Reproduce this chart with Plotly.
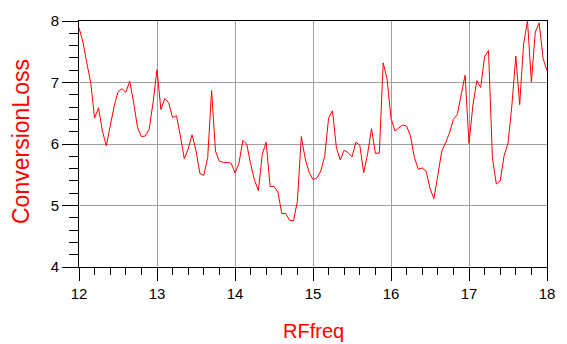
import plotly.graph_objects as go

rf_freq = [
    12.00, 12.05, 12.10, 12.15, 12.20, 12.25, 12.30, 12.35, 12.40, 12.45,
    12.50, 12.55, 12.60, 12.65, 12.70, 12.75, 12.80, 12.85, 12.90, 12.95,
    13.00, 13.05, 13.10, 13.15, 13.20, 13.25, 13.30, 13.35, 13.40, 13.45,
    13.50, 13.55, 13.60, 13.65, 13.70, 13.75, 13.80, 13.85, 13.90, 13.95,
    14.00, 14.05, 14.10, 14.15, 14.20, 14.25, 14.30, 14.35, 14.40, 14.45,
    14.50, 14.55, 14.60, 14.65, 14.70, 14.75, 14.80, 14.85, 14.90, 14.95,
    15.00, 15.05, 15.10, 15.15, 15.20, 15.25, 15.30, 15.35, 15.40, 15.45,
    15.50, 15.55, 15.60, 15.65, 15.70, 15.75, 15.80, 15.85, 15.90, 15.95,
    16.00, 16.05, 16.10, 16.15, 16.20, 16.25, 16.30, 16.35, 16.40, 16.45,
    16.50, 16.55, 16.60, 16.65, 16.70, 16.75, 16.80, 16.85, 16.90, 16.95,
    17.00, 17.05, 17.10, 17.15, 17.20, 17.25, 17.30, 17.35, 17.40, 17.45,
    17.50, 17.55, 17.60, 17.65, 17.70, 17.75, 17.80, 17.85, 17.90, 17.95,
    18.00,
]

conversion_loss = [
    7.89, 7.66, 7.32, 7.00, 6.42, 6.59, 6.21, 5.97, 6.29, 6.61,
    6.85, 6.90, 6.84, 7.02, 6.68, 6.27, 6.12, 6.13, 6.24, 6.68,
    7.21, 6.56, 6.74, 6.67, 6.43, 6.46, 6.13, 5.76, 5.92, 6.15,
    5.89, 5.52, 5.49, 5.78, 6.87, 5.88, 5.72, 5.70, 5.70, 5.69,
    5.53, 5.68, 6.06, 6.00, 5.68, 5.41, 5.24, 5.84, 6.03, 5.31,
    5.31, 5.22, 4.87, 4.87, 4.76, 4.75, 5.07, 6.12, 5.76, 5.54,
    5.42, 5.45, 5.56, 5.80, 6.42, 6.54, 5.94, 5.74, 5.90, 5.86,
    5.79, 6.03, 5.98, 5.53, 5.84, 6.25, 5.85, 5.85, 7.32, 7.05,
    6.42, 6.21, 6.26, 6.31, 6.29, 6.13, 5.78, 5.59, 5.61, 5.56,
    5.28, 5.11, 5.49, 5.88, 6.02, 6.18, 6.40, 6.48, 6.80, 7.12,
    6.01, 6.63, 7.03, 6.92, 7.42, 7.52, 5.78, 5.35, 5.40, 5.81,
    6.01, 6.63, 7.43, 6.64, 7.63, 8.00, 7.01, 7.82, 7.97, 7.39,
    7.19,
]

x_tick_vals = [12, 13, 14, 15, 16, 17, 18]
y_tick_vals = [4, 5, 6, 7, 8]

FONT = "Liberation Sans, Arial, Helvetica, sans-serif"

fig = go.Figure()
fig.add_trace(go.Scatter(
    x=rf_freq, y=conversion_loss, mode="lines",
    line=dict(color="#ff0000", width=1),
    hoverinfo="x+y", showlegend=False,
))

fig.update_layout(
    width=567, height=344,
    margin=dict(l=79, r=18, t=15, b=77),
    paper_bgcolor="white", plot_bgcolor="white",
    font=dict(family=FONT, size=15, color="black"),
    xaxis=dict(
        range=[12, 18], tickvals=x_tick_vals, ticktext=[str(v) for v in x_tick_vals],
        showgrid=True, gridcolor="#a0a0a0", gridwidth=1,
        showline=True, linecolor="black", linewidth=1, mirror=True,
        ticks="outside", ticklen=13, tickcolor="black", tickwidth=1,
        minor=dict(dtick=0.2, ticks="outside", ticklen=7, tickcolor="black", tickwidth=1, showgrid=False),
        zeroline=False, tickfont=dict(size=15),
    ),
    yaxis=dict(
        range=[4, 8], tickvals=y_tick_vals, ticktext=[str(v) for v in y_tick_vals],
        showgrid=True, gridcolor="#a0a0a0", gridwidth=1,
        showline=True, linecolor="black", linewidth=1, mirror=True,
        ticks="outside", ticklen=16, tickcolor="black", tickwidth=1,
        minor=dict(dtick=0.2, ticks="outside", ticklen=9, tickcolor="black", tickwidth=1, showgrid=False),
        zeroline=False, tickfont=dict(size=15),
    ),
    annotations=[
        dict(text="RFfreq", xref="paper", yref="paper", x=0.5, y=0,
             xanchor="center", yanchor="middle", yshift=-64, showarrow=False,
             font=dict(family=FONT, size=20, color="#ff0000")),
        dict(text="ConversionLoss", xref="paper", yref="paper", x=0, y=0.5,
             xanchor="center", yanchor="middle", xshift=-58, yshift=2, textangle=-90,
             showarrow=False, font=dict(family=FONT, size=23, color="#ff0000")),
    ],
)

fig.write_html("out.html")
